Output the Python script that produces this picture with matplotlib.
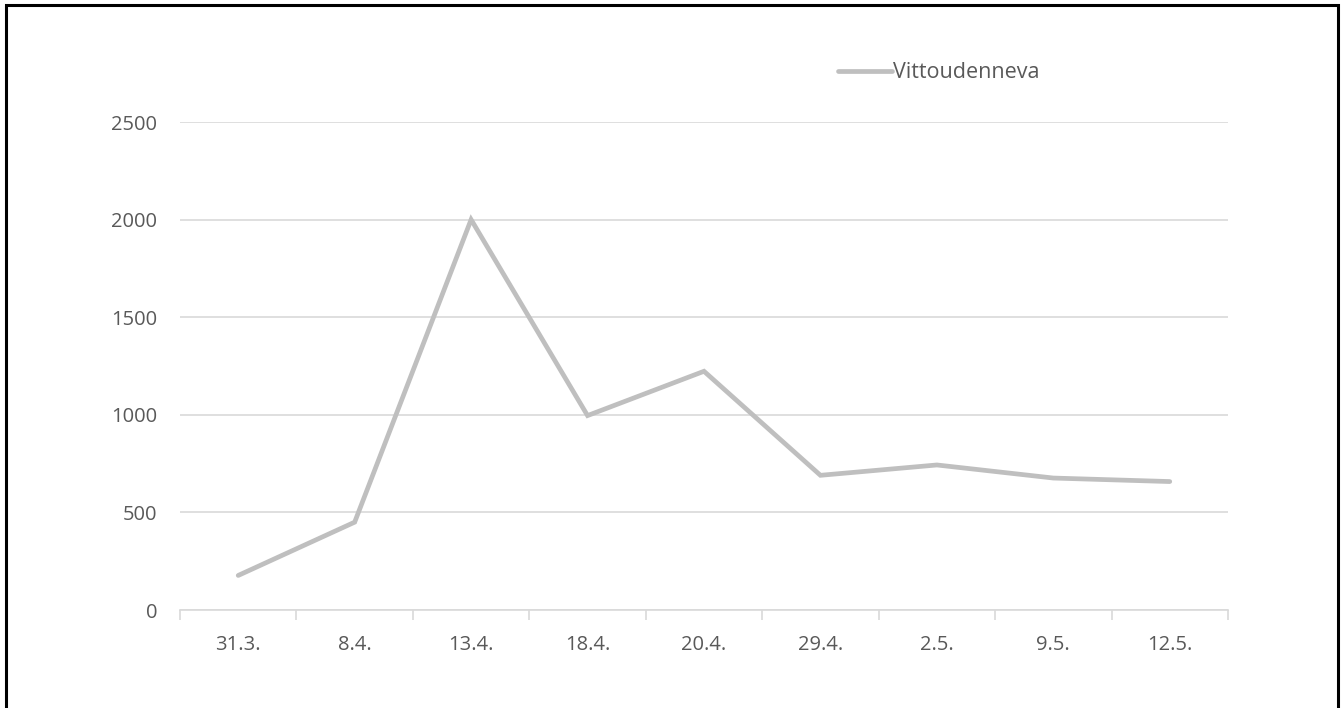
import matplotlib.pyplot as plt
from matplotlib.patches import Rectangle

dates = ['31.3.', '8.4.', '13.4.', '18.4.', '20.4.', '29.4.', '2.5.', '9.5.', '12.5.']
vittoudenneva = [177, 450, 2000, 996, 1223, 690, 743, 676, 658]

W, H = 1343, 708
fig = plt.figure(figsize=(W / 100, H / 100), dpi=100)
plt.rcParams['font.family'] = ['Open Sans', 'DejaVu Sans']
fs = 14.5

# axes box in pixels: x 180..1228, y 122..610
ax = fig.add_axes([180 / W, 1 - 610 / H, (1228 - 180) / W, (610 - 122) / H])

x = list(range(len(dates)))
ax.plot(x, vittoudenneva, color='#BFBFBF', lw=3.4, solid_joinstyle='miter',
        solid_capstyle='round', label='Vittoudenneva')

ax.set_xlim(-0.5, len(dates) - 0.5)
ax.set_ylim(0, 2500)
ax.set_yticks(range(0, 2501, 500))
ax.set_xticks(x)
ax.set_xticklabels(dates)
ax.set_xticks([i - 0.5 for i in range(len(dates) + 1)], minor=True)

ax.grid(axis='y', color='#D9D9D9', lw=1.2)
ax.set_axisbelow(True)
for s in ['top', 'right', 'left']:
    ax.spines[s].set_visible(False)
ax.spines['bottom'].set_color('#D9D9D9')
ax.spines['bottom'].set_linewidth(1.2)

ax.tick_params(axis='y', length=0, pad=16.5, labelsize=fs, labelcolor='#595959')
ax.tick_params(axis='x', which='major', length=0, pad=18, labelsize=fs, labelcolor='#595959')
ax.tick_params(axis='x', which='minor', length=7, width=1.2, color='#D9D9D9', direction='out')

leg = ax.legend(loc='center left', bbox_to_anchor=(838 / W, 1 - 73 / H),
                bbox_transform=fig.transFigure, frameon=False, fontsize=15.5,
                handlelength=2.5, handletextpad=0.05, borderaxespad=0,
                borderpad=0)
for t in leg.get_texts():
    t.set_color('#595959')

# outer frame
fig.patches.append(Rectangle((5.5 / W, -0.05), 1332 / W, 1.05 - 4.5 / H,
                             transform=fig.transFigure, fill=False,
                             edgecolor='black', lw=2.2))

fig.savefig('out.png', dpi=100)
